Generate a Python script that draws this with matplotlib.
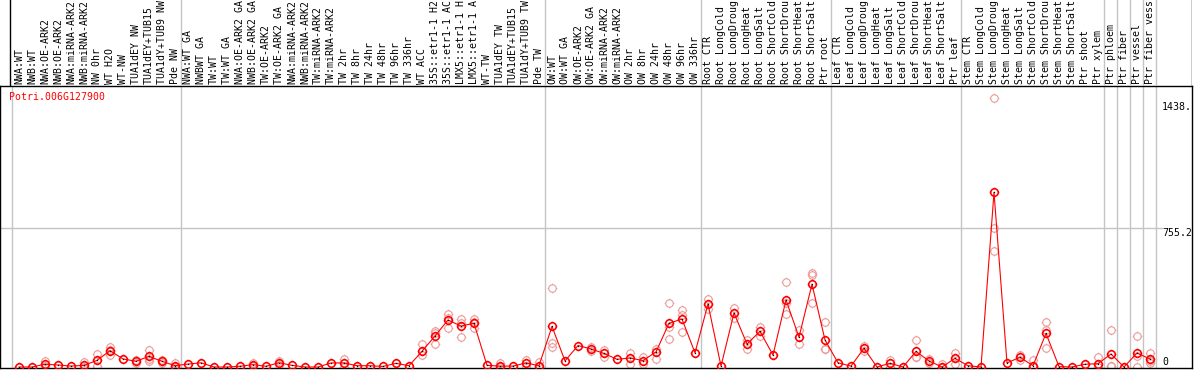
import matplotlib
matplotlib.use("Agg")
import matplotlib.pyplot as plt
import numpy as np
from matplotlib.path import Path

# ── data ──────────────────────────────────────────────────────────────────
gene_id = "Potri.006G127900"

# sample labels as they appear in the header strip (14 characters max)
labels = [
    "NWA:WT", "NWB:WT", "NWA:OE-ARK2", "NWB:OE-ARK2", "NWA:miRNA-ARK2",
    "NWB:miRNA-ARK2", "NW 0hr", "WT H2O", "WT-NW", "TUA1dEY NW",
    "TUA1dEY+TUB15", "TUA1dY+TUB9 NW", "Pde NW",
    "NWA:WT GA", "NWBWT GA", "TW:WT", "TW:WT GA", "NWA:OE-ARK2 GA",
    "NWB:OE-ARK2 GA", "TW:OE-ARK2", "TW:OE-ARK2 GA", "NWA:miRNA-ARK2",
    "NWB:miRNA-ARK2", "TW:miRNA-ARK2", "TW:miRNA-ARK2", "TW 2hr",
    "TW 8hr", "TW 24hr", "TW 48hr", "TW 96hr", "TW 336hr", "WT ACC",
    "35S::etr1-1 H2", "35S::etr1-1 AC", "LMX5::etr1-1 H",
    "LMX5::etr1-1 A", "WT-TW", "TUA1dEY TW", "TUA1dEY+TUB15",
    "TUA1dY+TUB9 TW", "Pde TW",
    "OW:WT", "OW:WT GA", "OW:OE-ARK2", "OW:OE-ARK2 GA", "OW:miRNA-ARK2",
    "OW:miRNA-ARK2", "OW 2hr", "OW 8hr", "OW 24hr", "OW 48hr", "OW 96hr",
    "OW 336hr",
    "Root CTR", "Root LongCold", "Root LongDroug", "Root LongHeat",
    "Root LongSalt", "Root ShortCold", "Root ShortDrou", "Root ShortHeat",
    "Root ShortSalt", "Ptr root",
    "Leaf CTR", "Leaf LongCold", "Leaf LongDroug", "Leaf LongHeat",
    "Leaf LongSalt", "Leaf ShortCold", "Leaf ShortDrou", "Leaf ShortHeat",
    "Leaf ShortSalt", "Ptr leaf",
    "Stem CTR", "Stem LongCold", "Stem LongDroug", "Stem LongHeat",
    "Stem LongSalt", "Stem ShortCold", "Stem ShortDrou", "Stem ShortHeat",
    "Stem ShortSalt", "Ptr shoot", "Ptr xylem",
    "Ptr phloem", "Ptr fiber", "Ptr vessel", "Ptr fiber vess",
]

means = [
    0, 0, 15, 11, 5, 9, 36, 89, 44, 31, 58, 31, 7,
    16, 23, 0, 0, 4, 13, 4, 23, 9, 0, 0, 22, 22, 7, 7, 3, 20, 7, 85, 169,
    256, 223, 238, 9, 5, 5, 22, 7,
    221, 33, 117, 98, 74, 42, 49, 35, 82, 238, 261, 77,
    343, 5, 294, 125, 194, 65, 365, 162, 451, 147,
    23, 5, 102, 0, 20, 0, 85, 33, 0, 47,
    7, 0, 951, 22, 53, 7, 183, 2, 0, 15, 18,
    71, 0, 76, 44,
]

# replicate values (pale markers), keyed by sample index
replicates = {
    2: [33, 5], 5: [29, 2], 6: [71, 5], 7: [111, 64, 92], 9: [38, 20],
    10: [94, 45, 35], 11: [38, 24], 12: [20, 0], 18: [20, 5], 20: [33, 13],
    25: [42, 2], 31: [125, 64], 32: [198, 124, 185], 33: [289, 214, 265],
    34: [263, 165, 241], 35: [260, 211, 243], 37: [22, 0], 39: [38, 5],
    40: [25, 0], 41: [428, 132, 110], 44: [110, 86], 45: [90, 55],
    47: [78, 15], 48: [15, 55], 49: [100, 42], 50: [347, 151, 216],
    51: [310, 189, 284], 53: [369, 318], 55: [321, 267], 56: [147, 96],
    57: [217, 171], 59: [461, 287, 347], 60: [201, 124], 61: [513, 501, 347],
    62: [243, 98, 100], 65: [116, 88], 67: [38, 2], 69: [145, 53, 57],
    70: [44, 22], 71: [15, 0], 72: [78, 16], 75: [1463, 759, 632],
    77: [66, 40], 78: [38, 0], 79: [243, 102, 204], 83: [56, 0],
    84: [201, 5, 7], 86: [169, 0, 59], 87: [76, 22, 34],
}

# groups end after these sample indices
group_ends = [-1, 12, 40, 52, 62, 72, 83, 84, 85, 86, 87]

grid_value = 755.2
axis_texts = [("1438.", 1417), ("755.2", 731), ("0", 29)]

# ── layout (pixels) ───────────────────────────────────────────────────────
W, H = 1194, 370
x0_px, step_px = 19.0, 13.0
plot_top, plot_bot, plot_right = 86, 368, 1192
units_per_px = 5.445


def px_to_idx(px):
    return (px - x0_px) / step_px


xlim = (px_to_idx(0), px_to_idx(plot_right))

fig = plt.figure(figsize=(W / 100, H / 100), dpi=100)
mono = "DejaVu Sans Mono"
fs = 7.1

# ── main plot ─────────────────────────────────────────────────────────────
ax = fig.add_axes([0, (H - plot_bot) / H, plot_right / W, (plot_bot - plot_top) / H])
ax.set_xlim(*xlim)
ax.set_ylim(-(plot_bot - 367) * units_per_px, (367 - plot_top) * units_per_px)
ax.set_xticks([])
ax.set_yticks([])
for s in ax.spines.values():
    s.set_color("black")
    s.set_linewidth(1.0)

sep_x = [g + 0.45 for g in group_ends]
for sx in sep_x:
    ax.axvline(sx, color="#c4c4c4", lw=1.0, zorder=1)
ax.plot([xlim[0], px_to_idx(1162)], [grid_value, grid_value],
        color="#c4c4c4", lw=1.0, zorder=1)

# marker: open circle (polygon) with four short ticks
theta = np.linspace(0, 2 * np.pi, 33)
ring_v = list(zip(np.cos(theta), np.sin(theta)))
ring_c = [Path.MOVETO] + [Path.LINETO] * 31 + [Path.CLOSEPOLY]
tk = 1.28
tick_v = [(0, 1), (0, tk), (0, -1), (0, -tk),
          (1, 0), (tk, 0), (-1, 0), (-tk, 0)]
tick_c = [Path.MOVETO, Path.LINETO] * 4
sun = Path(ring_v + tick_v, ring_c + tick_c)
msize = 6.9

xs = np.arange(len(means))
rx, ry = [], []
for k, vals in replicates.items():
    for v in vals:
        rx.append(k)
        ry.append(v)
ax.plot(rx, ry, ls="none", marker=sun, ms=msize, mfc="none",
        mec="#eb9a9a", mew=0.8, zorder=2)

ax.plot(xs, means, color="red", lw=0.8, zorder=3)
ax.plot(xs, means, ls="none", marker=sun, ms=msize, mfc="none",
        mec="red", mew=1.15, zorder=4)
ax.plot(xs, means, ls="none", marker="s", ms=0.9, color="black",
        mew=0, zorder=5)

ax.text(px_to_idx(9), (367 - 96.7) * units_per_px, gene_id, color="red",
        family=mono, fontsize=fs, ha="left", va="center")
for txt, val in axis_texts:
    ax.text(px_to_idx(1162), val, txt, family=mono, fontsize=fs,
            ha="left", va="center")

# ── label strip ───────────────────────────────────────────────────────────
axl = fig.add_axes([0, (H - plot_top) / H, plot_right / W, plot_top / H])
axl.set_xlim(*xlim)
axl.set_ylim(plot_top, 0)
axl.axis("off")
for sx in sep_x[1:]:
    axl.axvline(sx, color="#c4c4c4", lw=1.0)
axl.axvline(px_to_idx(10.5), color="black", lw=1.0)
axl.axvline(px_to_idx(plot_right - 0.5), color="black", lw=1.0)

for i, lab in enumerate(labels):
    axl.text(i, 84.5, lab, rotation=90, family=mono, fontsize=fs,
             ha="center", va="bottom")

fig.savefig("out.png", dpi=100)
